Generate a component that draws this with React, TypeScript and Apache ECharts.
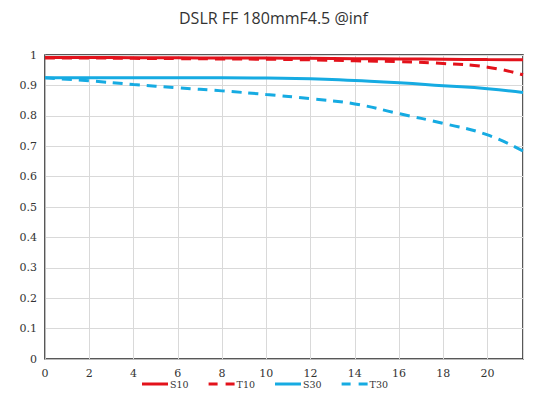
import React, { useEffect, useRef } from "react";
import * as echarts from "echarts";

const xs = [0, 2, 4, 6, 8, 10, 12, 14, 16, 18, 20, 21.6];
const s10 = [0.992, 0.992, 0.991, 0.991, 0.99, 0.99, 0.989, 0.988, 0.987, 0.986, 0.985, 0.984];
const t10 = [0.99, 0.99, 0.989, 0.988, 0.987, 0.986, 0.984, 0.981, 0.978, 0.972, 0.96, 0.935];
const s30 = [0.925, 0.925, 0.925, 0.925, 0.925, 0.924, 0.922, 0.916, 0.909, 0.899, 0.889, 0.877];
const t30 = [0.925, 0.915, 0.903, 0.892, 0.882, 0.87, 0.856, 0.839, 0.807, 0.775, 0.737, 0.684];
const seriesNames = ["S10", "T10", "S30", "T30"];
const titleText = "DSLR FF 180mmF4.5 @inf";

const RED = "#e3121b";
const BLUE = "#16abe2";

const SOLID_ICON = "path://M0,0H26V3H0Z";
const DASH_ICON = "path://M0,0H9V3H0Z M17,0H26V3H17Z";

export default function App() {
  const ref = useRef<HTMLDivElement>(null);
  useEffect(() => {
    const chart = echarts.init(ref.current!, null, { renderer: "svg" });
    const mk = (name: string, vals: number[], color: string, dashed: boolean) => ({
      name,
      type: "line",
      smooth: true,
      symbol: "none",
      data: xs.map((x, i) => [x, vals[i]]),
      lineStyle: { color, width: 3, type: dashed ? [10, 7] : "solid" },
      itemStyle: { color },
      z: 3,
    });
    chart.setOption({
      animation: false,
      title: {
        text: titleText,
        left: 174,
        top: 5,
        textStyle: { fontSize: 16, fontWeight: "normal", color: "#333", fontFamily: "Open Sans" },
      },
      grid: {
        left: 45,
        right: 28,
        top: 55,
        bottom: 39,
        show: true,
        borderColor: "#222",
        borderWidth: 1.5,
      },
      legend: {
        top: 379,
        left: 142,
        padding: 0,
        itemWidth: 26,
        itemHeight: 3,
        itemGap: 20,
        data: [
          { name: seriesNames[0], icon: SOLID_ICON },
          { name: seriesNames[1], icon: DASH_ICON },
          { name: seriesNames[2], icon: SOLID_ICON },
          { name: seriesNames[3], icon: DASH_ICON },
        ],
        textStyle: { fontFamily: "DejaVu Serif", fontSize: 9.5, color: "#333", padding: [0, 0, 0, -3] },
      },
      xAxis: {
        type: "value",
        min: 0,
        max: 21.6,
        interval: 2,
        axisLine: { show: true, lineStyle: { color: "#bbb" } },
        axisTick: { show: false },
        splitLine: { show: true, lineStyle: { color: "#d9d9d9" } },
        axisLabel: {
          showMaxLabel: false,
          margin: 9,
          fontFamily: "DejaVu Serif",
          fontSize: 11,
          color: "#333",
        },
      },
      yAxis: {
        type: "value",
        min: 0,
        max: 1,
        interval: 0.1,
        axisLine: { show: true, lineStyle: { color: "#bbb" } },
        axisTick: { show: false },
        splitLine: { show: true, lineStyle: { color: "#d9d9d9" } },
        axisLabel: {
          margin: 8,
          fontFamily: "DejaVu Serif",
          fontSize: 11,
          color: "#333",
          formatter: (v: number) => (Math.round(v * 10) / 10).toString(),
        },
      },
      series: [
        mk(seriesNames[0], s10, RED, false),
        mk(seriesNames[1], t10, RED, true),
        mk(seriesNames[2], s30, BLUE, false),
        mk(seriesNames[3], t30, BLUE, true),
      ],
    });
    return () => chart.dispose();
  }, []);
  return <div ref={ref} style={{ width: 551, height: 398, position: "absolute", left: 0, top: 0 }} />;
}
